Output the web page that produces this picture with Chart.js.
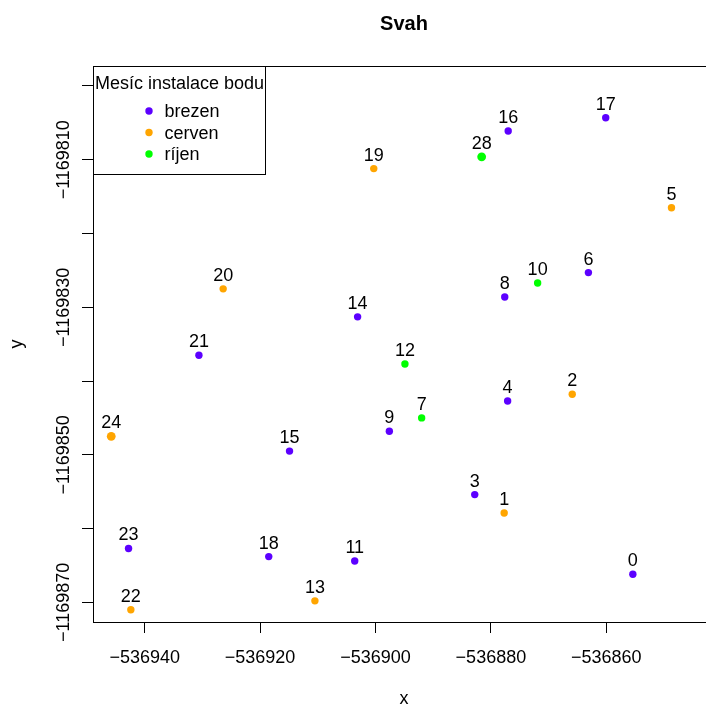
<!DOCTYPE html>
<html>
<head>
<meta charset="utf-8">
<script src="https://cdn.jsdelivr.net/npm/chart.js@4/dist/chart.umd.min.js"></script>
<style>
  html, body { margin: 0; padding: 0; background: #fff; overflow: hidden; width: 706px; height: 706px; }
  #wrap { position: absolute; left: 0; top: 0; width: 730px; height: 706px; }
  canvas { display: block; }
</style>
</head>
<body>
<div id="wrap"><canvas id="c" width="730" height="706"></canvas></div>
<script>
// ---- data ----
const pointIds = [0, 1, 2, 3, 4, 5, 6, 7, 8, 9, 10, 11, 12, 13, 14, 15, 16, 17, 18, 19, 20, 21, 22, 23, 24, 28];
const xValues = [-536855.4, -536877.7, -536865.9, -536882.8, -536877.1, -536848.7, -536863.1, -536892.0, -536877.6, -536897.6,
                 -536871.9, -536903.6, -536894.9, -536910.5, -536903.1, -536914.9, -536877.0, -536860.1, -536918.5, -536900.3,
                 -536926.4, -536930.6, -536942.4, -536942.8, -536945.8, -536881.6];
const yValues = [-1169866.2, -1169857.9, -1169841.8, -1169855.4, -1169842.7, -1169816.5, -1169825.3, -1169845.0, -1169828.6, -1169846.8,
                 -1169826.7, -1169864.4, -1169837.7, -1169869.8, -1169831.3, -1169849.5, -1169806.1, -1169804.3, -1169863.8, -1169811.2,
                 -1169827.5, -1169836.5, -1169871.0, -1169862.7, -1169847.5, -1169809.6];
const pointMonths = ['brezen', 'cerven', 'cerven', 'brezen', 'brezen', 'cerven', 'brezen', 'ríjen', 'brezen', 'brezen',
                     'ríjen', 'brezen', 'ríjen', 'cerven', 'brezen', 'brezen', 'brezen', 'brezen', 'brezen', 'cerven',
                     'cerven', 'brezen', 'cerven', 'brezen', 'cerven', 'ríjen'];
const monthNames = ['brezen', 'cerven', 'ríjen'];
const monthColors = ['#5c00ff', '#ffa500', '#00ff00'];
const xTickValues = [-536940, -536920, -536900, -536880, -536860];
const xTickLabels = ['\u2212536940', '\u2212536920', '\u2212536900', '\u2212536880', '\u2212536860'];
const yTickValues = [-1169870, -1169860, -1169850, -1169840, -1169830, -1169820, -1169810, -1169800];
const yTickLabels = ['\u22121169870', '', '\u22121169850', '', '\u22121169830', '', '\u22121169810', ''];
const chartTitle = 'Svah';
const xTitle = 'x';
const yTitle = 'y';
const legendTitle = 'Mesíc instalace bodu';

// points that look heavier (overplotted) in the reference
const heavyIds = [24, 28];

// ---- build datasets ----
const datasets = monthNames.map((m, k) => {
  const idx = pointMonths.map((pm, i) => pm === m ? i : -1).filter(i => i >= 0);
  const ids = idx.map(i => pointIds[i]);
  return {
    label: m,
    ids: ids,
    data: idx.map(i => ({ x: xValues[i], y: yValues[i] })),
    backgroundColor: monthColors[k],
    borderWidth: 0,
    pointRadius: c => heavyIds.includes(ids[c.dataIndex]) ? 4.4 : 3.7,
    pointHoverRadius: c => heavyIds.includes(ids[c.dataIndex]) ? 4.4 : 3.7
  };
});

const FONT = '"Liberation Sans", Arial, Helvetica, sans-serif';

const rPlot = {
  id: 'rPlot',
  afterDraw(chart) {
    const ctx = chart.ctx;
    const { left, top, right, bottom } = chart.chartArea;
    const xs = chart.scales.x, ys = chart.scales.y;
    ctx.save();
    // point labels
    ctx.fillStyle = '#000';
    ctx.font = '18px ' + FONT;
    ctx.textAlign = 'center';
    ctx.textBaseline = 'alphabetic';
    chart.data.datasets.forEach((ds, i) => {
      const meta = chart.getDatasetMeta(i);
      meta.data.forEach((pt, j) => {
        ctx.fillText(String(ds.ids[j]), pt.x, pt.y - 8);
      });
    });
    // box
    ctx.strokeStyle = '#000';
    ctx.lineWidth = 1;
    ctx.strokeRect(Math.round(left) + 0.5, Math.round(top) + 0.5, Math.round(right - left), Math.round(bottom - top));
    // x tick labels
    xTickValues.forEach((v, i) => {
      ctx.fillText(xTickLabels[i], xs.getPixelForValue(v), 663);
    });
    // y tick labels
    yTickValues.forEach((v, i) => {
      if (!yTickLabels[i]) return;
      ctx.save();
      ctx.translate(68.5, ys.getPixelForValue(v));
      ctx.rotate(-Math.PI / 2);
      ctx.fillText(yTickLabels[i], 0, 0);
      ctx.restore();
    });
    const cx = (left + right) / 2;
    // axis titles
    ctx.fillText(xTitle, cx, 704);
    ctx.save();
    ctx.translate(21.5, (top + bottom) / 2);
    ctx.rotate(-Math.PI / 2);
    ctx.fillText(yTitle, 0, 0);
    ctx.restore();
    // main title
    ctx.font = 'bold 20px ' + FONT;
    ctx.fillText(chartTitle, cx, 30);
    // legend
    const lx = Math.round(left) + 0.5, ly = Math.round(top) + 0.5;
    const lw = 172, lh = 108;
    ctx.fillStyle = '#fff';
    ctx.fillRect(lx, ly, lw, lh);
    ctx.strokeRect(lx, ly, lw, lh);
    ctx.fillStyle = '#000';
    ctx.font = '18px ' + FONT;
    ctx.fillText(legendTitle, lx + lw / 2, ly + 22);
    ctx.textAlign = 'left';
    monthNames.forEach((m, k) => {
      const rowY = ly + 44.5 + k * 21.5;
      ctx.beginPath();
      ctx.fillStyle = monthColors[k];
      ctx.arc(lx + 55.5, rowY, 3.7, 0, Math.PI * 2);
      ctx.fill();
      ctx.fillStyle = '#000';
      ctx.fillText(m, lx + 71, rowY + 6.3);
    });
    ctx.restore();
  }
};

new Chart(document.getElementById('c'), {
  type: 'scatter',
  data: { datasets },
  options: {
    responsive: false,
    animation: false,
    events: [],
    layout: { padding: { left: 0, top: 66, right: 15, bottom: 0 } },
    plugins: { legend: { display: false }, title: { display: false }, tooltip: { enabled: false } },
    scales: {
      x: {
        type: 'linear',
        min: -536948.96,
        max: -536841.16,
        afterBuildTicks: s => { s.ticks = xTickValues.map(v => ({ value: v })); },
        afterFit: s => { s.height = 84; },
        ticks: { display: false },
        grid: { display: true, drawOnChartArea: false, drawTicks: true, tickLength: 11, color: '#000', lineWidth: 1 },
        border: { display: false }
      },
      y: {
        type: 'linear',
        min: -1169872.67,
        max: -1169797.29,
        afterBuildTicks: s => { s.ticks = yTickValues.map(v => ({ value: v })); },
        afterFit: s => { s.width = 93; },
        ticks: { display: false },
        grid: { display: true, drawOnChartArea: false, drawTicks: true, tickLength: 11, color: '#000', lineWidth: 1 },
        border: { display: false }
      }
    }
  },
  plugins: [rPlot]
});
</script>
</body>
</html>
